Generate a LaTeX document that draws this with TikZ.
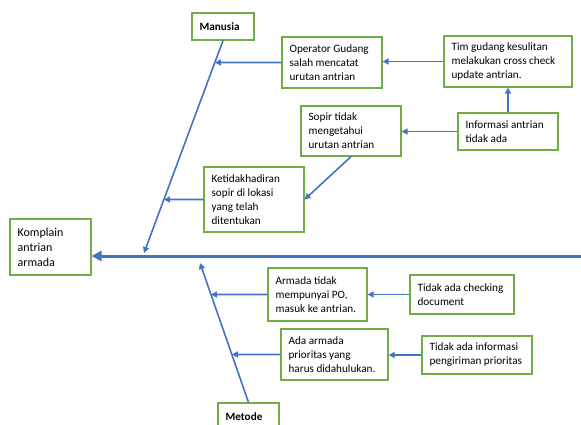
\documentclass[tikz,border=0pt]{standalone}
\usepackage{fontspec}
\setmainfont{Carlito}
\usetikzlibrary{arrows.meta}
\definecolor{boxgreen}{HTML}{70AD47}
\definecolor{bonecol}{HTML}{4472C4}
\begin{document}
\begin{tikzpicture}[x=1pt,y=-1pt,
    box/.style={draw=boxgreen,line width=1.2pt,inner sep=0pt},
    txt/.style={anchor=west,xshift=8pt,inner sep=0pt,align=left,
      font=\fontsize{11.2}{14}\selectfont},
    arr/.style={-{Triangle[length=6pt,width=6pt]},bonecol,line width=1.6pt},
    spine/.style={-{Triangle[length=10pt,width=10pt]},bonecol,line width=3pt}]
  \useasboundingbox (0,0) rectangle (581,424);

  % head and heads of the bones
  \node[box,minimum width=81pt,minimum height=56pt,
    label={[txt,font=\fontsize{12}{15}\selectfont]west:Komplain\\antrian\\armada}] (kompl) at (50.5,247) {};
  \node[box,minimum width=62pt,minimum height=27pt,label={[txt]west:\textbf{Manusia}}] (manusia) at (223,26.5) {};
  \node[box,minimum width=61pt,minimum height=27pt,label={[txt]west:\textbf{Metode}}] (metode) at (248.5,416.5) {};

  % causes (manusia)
  \node[box,minimum width=100pt,minimum height=51pt,
    label={[txt]west:Operator Gudang\\salah mencatat\\urutan antrian}] (opr) at (332,62.5) {};
  \node[box,minimum width=128pt,minimum height=51pt,
    label={[txt]west:Tim gudang kesulitan\\melakukan cross check\\update antrian.}] (tim) at (508,61.5) {};
  \node[box,minimum width=100pt,minimum height=37pt,
    label={[txt]west:Informasi antrian\\tidak ada}] (info) at (508,131.5) {};
  \node[box,minimum width=100pt,minimum height=50pt,
    label={[txt]west:Sopir tidak\\mengetahui\\urutan antrian}] (sopir) at (351,131) {};
  \node[box,minimum width=100pt,minimum height=65pt,
    label={[txt]west:Ketidakhadiran\\sopir di lokasi\\yang telah\\ditentukan}] (ket) at (254,199.5) {};

  % causes (metode)
  \node[box,minimum width=99pt,minimum height=53pt,
    label={[txt]west:{Armada tidak\\mempunyai PO,\\masuk ke antrian.}}] (armada) at (317.5,294.5) {};
  \node[box,minimum width=104pt,minimum height=39pt,
    label={[txt]west:Tidak ada checking\\document}] (chk) at (462,294.5) {};
  \node[box,minimum width=107pt,minimum height=51pt,
    label={[txt]west:Ada armada\\prioritas yang\\harus didahulukan.}] (ada) at (334.5,354.5) {};
  \node[box,minimum width=110pt,minimum height=38pt,
    label={[txt]west:Tidak ada informasi\\pengiriman prioritas}] (inf2) at (477,355) {};

  % spine and bones
  \coordinate (tail) at (581,256);
  \coordinate (mEnd) at (144,253);
  \coordinate (tEnd) at (200,263);
  \draw[spine] (tail) -- (tail -| kompl.east);
  \draw[arr] (manusia.south) -- (mEnd);
  \draw[arr] (metode.north) -- (tEnd);

  \draw[arr] (opr.west) -- (intersection of manusia.south--mEnd and opr.west--opr.east);
  \draw[arr] (ket.west) -- (intersection of manusia.south--mEnd and ket.west--ket.east);
  \draw[arr] (tim.west) -- (tim.west -| opr.east);
  \draw[arr] (info.north) -- (info.north |- tim.south);
  \draw[arr] (info.west) -- (info.west -| sopir.east);
  \draw[arr] (sopir.south) -- (ket.east);

  \draw[arr] (armada.west) -- (intersection of metode.north--tEnd and armada.west--armada.east);
  \draw[arr] (ada.west) -- (intersection of metode.north--tEnd and ada.west--ada.east);
  \draw[arr] (chk.west) -- (chk.west -| armada.east);
  \draw[arr] (inf2.west) -- (inf2.west -| ada.east);
\end{tikzpicture}
\end{document}
